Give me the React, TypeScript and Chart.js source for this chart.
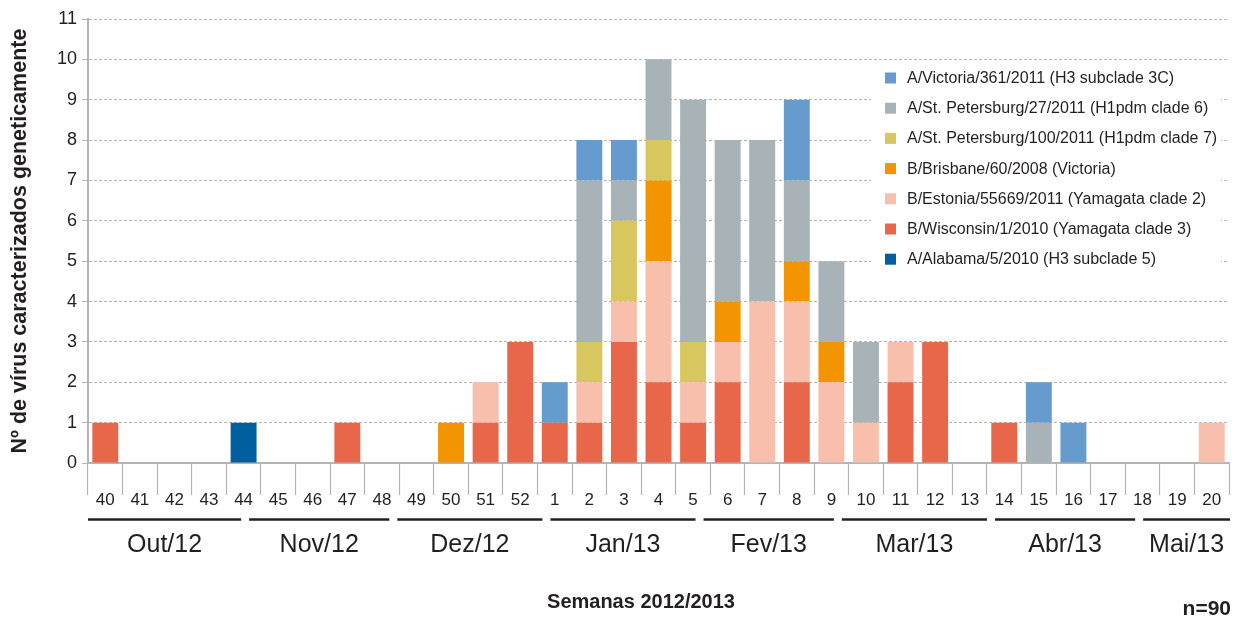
import React, { useEffect, useRef } from "react";
import { Chart, registerables } from "chart.js";

Chart.register(...registerables);

// ---- data ----
const weeks = [
  "40", "41", "42", "43", "44", "45", "46", "47", "48", "49", "50", "51", "52",
  "1", "2", "3", "4", "5", "6", "7", "8", "9", "10", "11", "12", "13",
  "14", "15", "16", "17", "18", "19", "20",
];

const alabama = [0,0,0,0,1,0,0,0,0,0,0,0,0,0,0,0,0,0,0,0,0,0,0,0,0,0,0,0,0,0,0,0,0];
const wisconsin = [1,0,0,0,0,0,0,1,0,0,0,1,3,1,1,3,2,1,2,0,2,0,0,2,3,0,1,0,0,0,0,0,0];
const estonia = [0,0,0,0,0,0,0,0,0,0,0,1,0,0,1,1,3,1,1,4,2,2,1,1,0,0,0,0,0,0,0,0,1];
const brisbane = [0,0,0,0,0,0,0,0,0,0,1,0,0,0,0,0,2,0,1,0,1,1,0,0,0,0,0,0,0,0,0,0,0];
const stPete100 = [0,0,0,0,0,0,0,0,0,0,0,0,0,0,1,2,1,1,0,0,0,0,0,0,0,0,0,0,0,0,0,0,0];
const stPete27 = [0,0,0,0,0,0,0,0,0,0,0,0,0,0,4,1,2,6,4,4,2,2,2,0,0,0,0,1,0,0,0,0,0];
const victoria = [0,0,0,0,0,0,0,0,0,0,0,0,0,1,1,1,0,0,0,0,2,0,0,0,0,0,0,1,1,0,0,0,0];

const months = ["Out/12", "Nov/12", "Dez/12", "Jan/13", "Fev/13", "Mar/13", "Abr/13", "Mai/13"];
const monthDays = [31, 30, 31, 31, 28, 31, 30, 31];

const yTitle = "Nº de vírus caracterizados geneticamente";
const xTitle = "Semanas 2012/2013";
const totalNote = "n=90";

const FONT = "'Liberation Sans', Arial, Helvetica, sans-serif";
const TEXT = "#231f20";
const GRAY = "#b4b4b4";

const overlayPlugin = {
  id: "overlay",
  afterDraw(chart: any) {
    const { ctx, chartArea, scales } = chart;
    const xs = scales.x;
    const cat = xs.getPixelForValue(1) - xs.getPixelForValue(0);
    const x0 = xs.getPixelForValue(0) - cat / 2;
    ctx.save();

    // legend
    ctx.fillStyle = "#ffffff";
    ctx.fillRect(871, 63, 350, 212);
    const items = chart.data.datasets.slice().reverse();
    ctx.font = `16px ${FONT}`;
    ctx.textBaseline = "middle";
    ctx.textAlign = "left";
    items.forEach((ds: any, i: number) => {
      const cy = 78 + i * 30.2;
      ctx.fillStyle = ds.backgroundColor;
      ctx.fillRect(885, cy - 5.5, 11, 11);
      ctx.fillStyle = TEXT;
      ctx.fillText(ds.label, 907, cy + 0.5);
    });

    // month brackets
    let day = 0;
    months.forEach((m, i) => {
      const s = x0 + (day / 7) * cat + (i === 0 ? 0 : 8);
      day += monthDays[i];
      const e = Math.min(x0 + (day / 7) * cat, chartArea.right + 1);
      ctx.strokeStyle = TEXT;
      ctx.lineWidth = 2.5;
      ctx.beginPath();
      ctx.moveTo(s, 519.5);
      ctx.lineTo(e, 519.5);
      ctx.stroke();
      ctx.fillStyle = TEXT;
      ctx.font = `25px ${FONT}`;
      ctx.textAlign = "center";
      ctx.textBaseline = "middle";
      ctx.fillText(m, (s + e) / 2, 545);
    });

    // x title
    ctx.font = `bold 20px ${FONT}`;
    ctx.textAlign = "center";
    ctx.textBaseline = "middle";
    ctx.fillText(xTitle, 641, 602);

    // n=90
    ctx.font = `bold 21px ${FONT}`;
    ctx.textAlign = "right";
    ctx.fillText(totalNote, 1231, 609);

    // y title
    ctx.translate(20, (chartArea.top + chartArea.bottom) / 2);
    ctx.rotate(-Math.PI / 2);
    ctx.font = `bold 21.5px ${FONT}`;
    ctx.textAlign = "center";
    ctx.textBaseline = "middle";
    ctx.fillText(yTitle, 0, 0);

    ctx.restore();
  },
};

export default function App() {
  const ref = useRef<HTMLCanvasElement | null>(null);

  useEffect(() => {
    if (!ref.current) return;
    const mk = (label: string, data: number[], color: string) => ({
      label,
      data,
      backgroundColor: color,
      borderWidth: 0,
      categoryPercentage: 1,
      barPercentage: 0.75,
    });
    const chart = new Chart(ref.current, {
      type: "bar",
      data: {
        labels: weeks,
        datasets: [
          mk("A/Alabama/5/2010 (H3 subclade 5)", alabama, "#005f9f"),
          mk("B/Wisconsin/1/2010 (Yamagata clade 3)", wisconsin, "#e8674b"),
          mk("B/Estonia/55669/2011 (Yamagata clade 2)", estonia, "#f7bfac"),
          mk("B/Brisbane/60/2008 (Victoria)", brisbane, "#f39501"),
          mk("A/St. Petersburg/100/2011 (H1pdm clade 7)", stPete100, "#d8c65e"),
          mk("A/St. Petersburg/27/2011 (H1pdm clade 6)", stPete27, "#a8b3b8"),
          mk("A/Victoria/361/2011 (H3 subclade 3C)", victoria, "#669bce"),
        ],
      },
      options: {
        responsive: false,
        animation: false,
        layout: { padding: { left: 0, right: 10, top: 19, bottom: 0 } },
        plugins: { legend: { display: false }, tooltip: { enabled: false } },
        scales: {
          x: {
            stacked: true,
            afterFit: (s: any) => {
              s.height = 156;
            },
            grid: {
              offset: true,
              drawOnChartArea: false,
              drawTicks: true,
              tickLength: 32,
              tickColor: GRAY,
              tickWidth: 1.2,
            },
            border: { display: true, color: GRAY, width: 2 },
            ticks: {
              padding: -5,
              color: TEXT,
              font: { family: FONT, size: 17 },
              maxRotation: 0,
              autoSkip: false,
            },
          },
          y: {
            stacked: true,
            min: 0,
            max: 11,
            afterFit: (s: any) => {
              s.width = 88;
            },
            grid: {
              color: GRAY,
              lineWidth: 1,
              drawTicks: true,
              tickLength: 6,
              tickColor: GRAY,
              tickBorderDash: [],
            },
            border: { display: true, color: GRAY, width: 2, dash: [3, 2] },
            ticks: {
              stepSize: 1,
              padding: 5,
              color: TEXT,
              font: { family: FONT, size: 18 },
            },
          },
        },
      },
      plugins: [overlayPlugin],
    } as any);
    return () => chart.destroy();
  }, []);

  return (
    <div style={{ position: "fixed", left: 0, top: 0, width: 1239, height: 619, background: "#fff" }}>
      <canvas ref={ref} width={1239} height={619} />
    </div>
  );
}
